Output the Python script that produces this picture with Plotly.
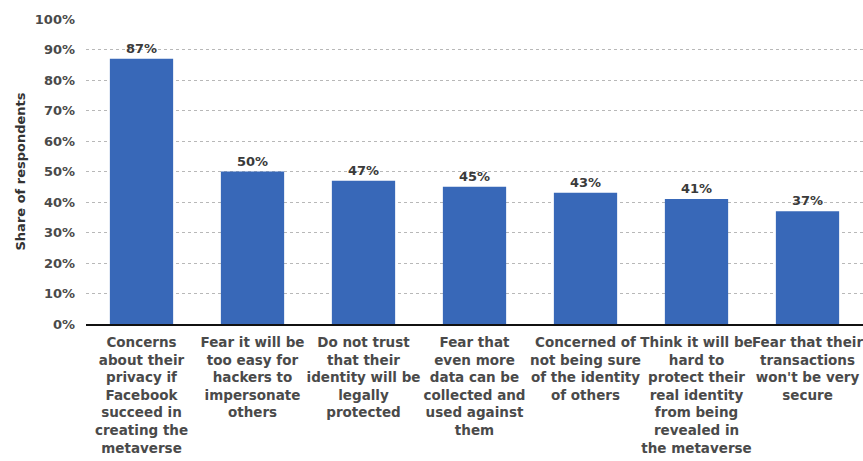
import plotly.graph_objects as go

categories = [
    "Concerns<br>about their<br>privacy if<br>Facebook<br>succeed in<br>creating the<br>metaverse",
    "Fear it will be<br>too easy for<br>hackers to<br>impersonate<br>others",
    "Do not trust<br>that their<br>identity will be<br>legally<br>protected",
    "Fear that<br>even more<br>data can be<br>collected and<br>used against<br>them",
    "Concerned of<br>not being sure<br>of the identity<br>of others",
    "Think it will be<br>hard to<br>protect their<br>real identity<br>from being<br>revealed in<br>the metaverse",
    "Fear that their<br>transactions<br>won't be very<br>secure",
]
values = [87, 50, 47, 45, 43, 41, 37]
labels = [f"{v}%" for v in values]
y_ticks = list(range(0, 101, 10))
y_tick_labels = [f"{t}%" for t in y_ticks]

FONT = "DejaVu Sans"

fig = go.Figure(go.Bar(
    x=categories,
    y=values,
    text=labels,
    textposition="outside",
    cliponaxis=False,
    textfont=dict(family=FONT, size=13, color="#3a3a3a", weight="bold"),
    marker=dict(color="#3868b8", line=dict(width=0)),
))

fig.update_layout(
    width=863, height=461,
    margin=dict(l=86, r=0, t=19, b=137),
    plot_bgcolor="white",
    paper_bgcolor="white",
    bargap=0.43,
    showlegend=False,
    font=dict(family=FONT, color="#444444"),
)
fig.update_yaxes(
    range=[0, 100],
    tickvals=y_ticks,
    ticktext=y_tick_labels,
    tickfont=dict(family=FONT, size=13, color="#4a4a4a", weight="bold"),
    ticklabelstandoff=10,
    showgrid=True,
    gridcolor="#b8b8b8",
    griddash="dot",
    gridwidth=1,
    zeroline=False,
    ticks="",
    ticklen=0,
    automargin=False,
    title=dict(text="Share of respondents", font=dict(family=FONT, size=13, color="#333333", weight="bold"), standoff=6),
)
fig.update_xaxes(
    tickfont=dict(family=FONT, size=13.5, color="#4a4a4a", weight="bold"),
    tickangle=0,
    ticklabelstandoff=5,
    showline=True,
    linecolor="#111111",
    linewidth=2,
    ticks="",
    automargin=False,
)

fig.write_html(
    "out.html",
    config={"displayModeBar": False},
    post_script="document.body.style.margin='0';document.body.style.overflow='hidden';",
)
